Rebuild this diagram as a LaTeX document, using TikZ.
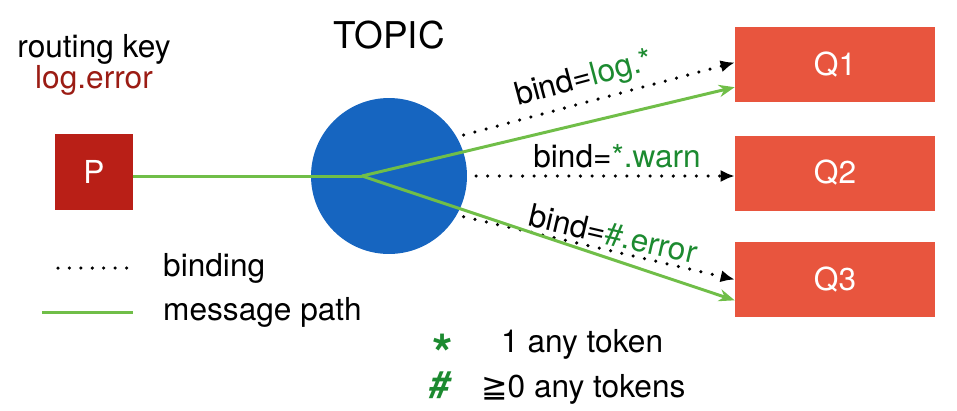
\documentclass[tikz,border=0pt]{standalone}
\usepackage{fontspec}
\setmainfont{TeX Gyre Heros}
\newfontfamily\symfont{DejaVu Sans}
\usetikzlibrary{arrows.meta,calc}
\definecolor{prodred}{RGB}{185,31,23}
\definecolor{queuered}{RGB}{232,85,62}
\definecolor{topicblue}{RGB}{22,101,192}
\definecolor{pathgreen}{RGB}{112,190,72}
\definecolor{keygreen}{RGB}{28,138,48}
\definecolor{keyred}{RGB}{155,28,20}
\tikzset{
  txt/.style={font=\fontsize{18}{20}\selectfont},
  queue/.style={txt,fill=queuered,text=white,minimum width=4cm,minimum height=1.5cm},
  dots/.style={line width=2pt,line cap=round,dash pattern=on 0pt off 6.6pt},
  binding/.style={dots,-{Latex[length=8pt,width=7pt]}},
  msgline/.style={pathgreen,line width=1.7pt},
  msgpath/.style={msgline,-{Stealth[length=9pt,width=7pt]}}
}
\begin{document}
\begin{tikzpicture}[x=0.02cm,y=-0.02cm]
        \useasboundingbox (0,0) rectangle (957,410);
        \node[txt,anchor=base] (key) at (94,57) {routing key};
        \node[txt,anchor=base,text=keyred] (keyval) at (94,88) {log.error};
        \node[txt,fill=prodred,text=white,minimum width=1.56cm,minimum height=1.52cm] (p) at (94,172) {P};
        \node[font=\fontsize{21}{24}\selectfont,anchor=base] (title) at (389,48) {TOPIC};
        \node[circle,fill=topicblue,minimum size=3.12cm,inner sep=0pt] (topic) at (389,176) {};
        \coordinate (hub) at (362,176);
        \node[queue] (q1) at (835,64.5) {Q1};
        \node[queue] (q2) at (835,173) {Q2};
        \node[queue] (q3) at (835,279.5) {Q3};
        \draw[binding,shorten <=4pt] (topic.30) -- ($(q1.west)+(0,-2)$)
            node[pos=.48,sloped,above,txt] {bind=\textcolor{keygreen}{log.*}};
        \draw[binding,shorten <=5pt] (topic.east) -- (topic.east -| q2.west)
            node[pos=.56,above,txt] {bind=\textcolor{keygreen}{*.warn}};
        \draw[binding,shorten <=4pt] (topic.-30) -- (q3.west)
            node[pos=.55,sloped,above,inner ysep=0pt,yshift=2pt,txt] {bind=\textcolor{keygreen}{\#.error}};
        \draw[msgline] (p.east |- hub) -- (hub);
        \draw[msgpath] (hub) -- ($(q1.west)!.6!(q1.south west)$);
        \draw[msgpath] (hub) -- ($(q3.west)!.55!(q3.south west)$);
        \coordinate (d1) at (58,268);
        \coordinate (d2) at (127,268);
        \draw[dots,dash pattern=on 0pt off 6.5pt] (d1) -- (d2);
        \node[txt,anchor=west] (bindlbl) at (157,268) {binding};
        \coordinate (m1) at (42,312);
        \coordinate (m2) at (133,312);
        \draw[msgline] (m1) -- (m2);
        \node[txt,anchor=west] (pathlbl) at (157,312) {message path};
        \node[font=\fontsize{30}{32}\selectfont\bfseries,text=keygreen,anchor=base] (star) at (443,372) {*};
        \node[txt,anchor=base west] (one) at (495,352) {1 any token};
        \node[font=\fontsize{21}{24}\selectfont\bfseries\itshape,text=keygreen,anchor=base] (hash) at (440,397) {\#};
        \node[txt,anchor=base west] (many) at (475,397) {{\symfont ≧}0 any tokens};
    \end{tikzpicture}
\end{document}
